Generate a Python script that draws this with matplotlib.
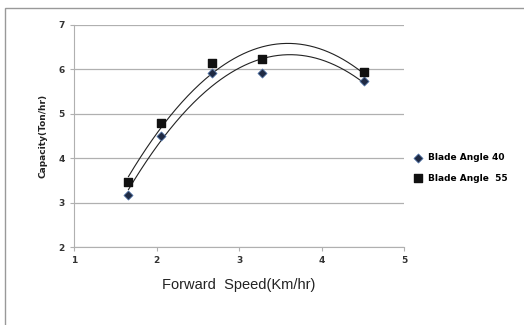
import numpy as np
import matplotlib
matplotlib.use("Agg")
import matplotlib.pyplot as plt
from matplotlib.patches import Rectangle

speed = [1.66, 2.06, 2.67, 3.28, 4.52]
cap_40 = [3.17, 4.50, 5.91, 5.93, 5.75]
cap_55 = [3.47, 4.80, 6.14, 6.24, 5.95]
labels = ["Blade Angle 40", "Blade Angle  55"]

fig = plt.figure(figsize=(5.24, 3.25), dpi=100)
fig.patches.append(Rectangle((5 / 524, -0.1), 1.2, 1 - 8 / 325 + 0.1,
                             transform=fig.transFigure, fill=False,
                             edgecolor="#999999", linewidth=1.0))
ax = fig.add_axes([74 / 524, 1 - 247.3 / 325, 330 / 524, 222.3 / 325])

xs = np.linspace(min(speed), max(speed), 200)
for ys in (cap_40, cap_55):
    p = np.polyfit(speed, ys, 2)
    ax.plot(xs, np.polyval(p, xs), color="#222222", linewidth=0.8)

ax.scatter(speed, cap_40, marker="D", s=22, color="#1f2a44",
           edgecolors="#5a7fb5", linewidths=0.5, zorder=3, label=labels[0])
ax.scatter(speed, cap_55, marker="s", s=34, color="#111111", zorder=3,
           label=labels[1])

ax.set_xlim(1, 5)
ax.set_ylim(2, 7)
ax.set_xticks([1, 2, 3, 4, 5])
ax.set_yticks([2, 3, 4, 5, 6, 7])
ax.grid(axis="y", color="#b0b0b0", linewidth=0.9)
ax.set_axisbelow(True)
for s in ("top", "right"):
    ax.spines[s].set_visible(False)
for s in ("left", "bottom"):
    ax.spines[s].set_color("#b0b0b0")
ax.tick_params(colors="#b0b0b0", length=3, width=0.8, labelsize=6.5,
               labelcolor="#333333")
for t in ax.get_xticklabels() + ax.get_yticklabels():
    t.set_fontweight("bold")

ax.set_ylabel("Capacity(Ton/hr)", fontsize=6.5, fontweight="bold",
              color="#222222", labelpad=8)
ax.set_xlabel("Forward  Speed(Km/hr)", fontsize=10.5, family="Liberation Sans",
              color="#222222", labelpad=9)

ax.legend(loc="center left", bbox_to_anchor=(1.0, 0.357), frameon=False,
          handletextpad=0.2, labelspacing=1.3, borderpad=0,
          prop={"weight": "bold", "size": 6.5})

fig.savefig("out.png", dpi=100)
